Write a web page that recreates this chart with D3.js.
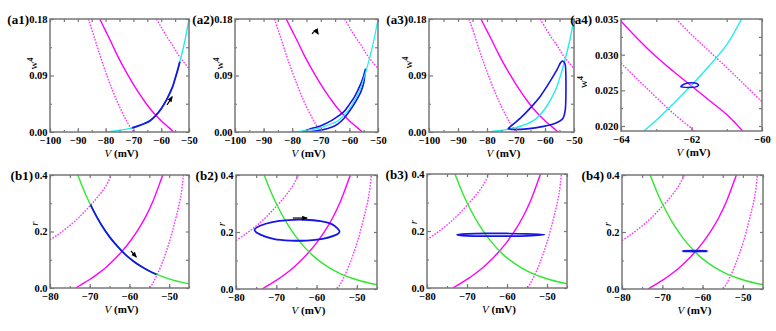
<!DOCTYPE html>
<html>
<head>
<meta charset="utf-8">
<script src="https://cdn.jsdelivr.net/npm/d3@7"></script>
<style>
  body { margin: 0; background: #fff; }
  svg text { font-family: "Liberation Serif", "Times New Roman", serif; font-weight: bold; fill: #000; }
</style>
</head>
<body>
<div id="chart"></div>
<script>
// ---- top row (V, w^4) ----
var topSolid = [[-82.1,0.18],[-80,0.161],[-78,0.143],[-76,0.124],[-74,0.107],[-72,0.091],[-70,0.076],[-68,0.062],[-66,0.049],[-64,0.037],[-62,0.027],[-60,0.018],[-58,0.010],[-55.5,0]];
var topDotLeft = [[-86.2,0.18],[-84,0.15],[-82,0.122],[-80,0.096],[-78,0.072],[-76,0.050],[-74,0.031],[-72,0.014],[-70,0]];
var topDotRight = [[-61.7,0.18],[-60,0.167],[-58,0.152],[-56,0.139],[-54,0.124],[-52,0.112],[-50,0.101]];
var topCyan = [[-80,0],[-76,0.002],[-72,0.005],[-70,0.007],[-68,0.010],[-66,0.0135],[-64,0.018],[-62,0.026],[-60,0.037],[-58,0.052],[-56,0.071],[-55,0.085],[-54,0.100],[-53,0.117],[-52,0.135],[-51,0.156],[-50,0.18]];

var a1Traj = [[-70.5,0.0065],[-68,0.010],[-66,0.0135],[-64,0.018],[-62,0.026],[-60,0.037],[-58,0.052],[-56,0.071],[-55,0.085],[-54,0.100],[-53.3,0.112]];
var a2Loop = [[-76.5,0.0005],[-74,0.0045],[-70,0.010],[-66,0.019],[-62,0.032],[-60,0.044],[-58,0.058],[-56,0.077],[-55,0.090],[-54.4,0.100],
              [-54.6,0.091],[-55,0.078],[-56,0.064],[-58,0.047],[-60,0.033],[-62,0.021],[-64,0.013],[-66,0.008],[-70,0.003],[-74,0.0005]];
var a3Loop = [[-72.5,0.0064],[-68.5,0.022],[-65.1,0.038],[-61.6,0.057],[-58.2,0.081],[-55.9,0.099],[-54.7,0.110],[-53.9,0.113],
              [-53,0.107],[-52.8,0.089],[-52.8,0.057],[-53,0.036],[-53.8,0.022],[-56.4,0.014],[-60.5,0.009],[-66.2,0.005],[-70.8,0.004],[-72.2,0.005]];

// ---- a4 zoom (V, w^4) ----
var a4Solid = [[-64,0.0347],[-63.5,0.0321],[-63,0.0297],[-62.5,0.0276],[-62,0.0256],[-61.5,0.0236],[-61,0.0216],[-60.55,0.0193]];
var a4DotLeft = [[-64,0.0288],[-63.5,0.0264],[-63,0.0240],[-62.5,0.0217],[-61.9,0.0193]];
var a4DotRight = [[-62.43,0.035],[-62,0.0328],[-61.5,0.0305],[-61,0.0282],[-60.5,0.0258],[-60,0.0234]];
var a4Cyan = [[-63.35,0.0193],[-63,0.0208],[-62.5,0.0232],[-62,0.0257],[-61.5,0.0284],[-61,0.0314],[-60.58,0.035]];
var a4Loop = [[-62.3,0.02555],[-62.2,0.0259],[-62.0,0.02605],[-61.85,0.02595],[-61.8,0.0257],[-61.9,0.02545],[-62.1,0.0254],[-62.25,0.02545]];

// ---- bottom row (V, r) ----
var botGreen = [[-73,0.40],[-71,0.33],[-69,0.272],[-67,0.222],[-65,0.181],[-63,0.147],[-61,0.118],[-59,0.095],[-57,0.076],[-55,0.060],[-53,0.047],[-51,0.037],[-49,0.028],[-47,0.021],[-45,0.015]];
var botSolid = [[-73.5,0],[-72,0.013],[-70,0.03],[-68,0.05],[-66,0.072],[-64,0.098],[-62,0.128],[-60,0.162],[-58,0.202],[-56,0.25],[-54,0.31],[-52,0.385],[-51.6,0.4]];
var botDotLeft = [[-80,0.17],[-78,0.189],[-76,0.21],[-74,0.233],[-72,0.26],[-70,0.29],[-68,0.322],[-66,0.36],[-64.5,0.4]];
var botDotRight = [[-54.8,0],[-54,0.02],[-53,0.048],[-52,0.08],[-51,0.118],[-50,0.16],[-49,0.21],[-48,0.265],[-47,0.33],[-46.4,0.4]];

var b1Traj = [[-69.8,0.295],[-69,0.272],[-67,0.222],[-65,0.181],[-63,0.147],[-61,0.118],[-59,0.095],[-57,0.076],[-55,0.060],[-53.2,0.048]];
var b2Loop = [[-75.4,0.207],[-74,0.222],[-71,0.235],[-67,0.242],[-63,0.243],[-59,0.238],[-56,0.226],[-54.3,0.203],[-55.5,0.188],[-58.5,0.176],[-62.5,0.170],[-66.5,0.170],[-70.5,0.175],[-73.8,0.190]];
var b3Loop = [[-72.5,0.187],[-70,0.190],[-65,0.1915],[-60,0.1915],[-55,0.190],[-50.6,0.187],[-55,0.183],[-60,0.182],[-65,0.182],[-70,0.183]];
var b4Loop = [[-65,0.133],[-62,0.1337],[-58.8,0.133],[-62,0.1323]];

// arrows [x1, y1, x2, y2] in data units
var a1Arrow = [-57.9,0.043,-56.1,0.056];
var b1Arrow = [-59.6,0.131,-58.3,0.110];
var b2Arrow = [-65.9,0.249,-62.4,0.249];

// ticks
var topXTicks = [-100,-90,-80,-70,-60,-50];
var topYTicks = [0,0.09,0.18];
var a4XTicks = [-64,-62,-60];
var a4YTicks = [0.020,0.025,0.030,0.035];
var botXTicks = [-80,-70,-60,-50];
var botYTicks = [0,0.2,0.4];

var MAG = "#ff00ff", MAGD = "#ff33ff", CYAN = "#22ecf2", BLUE = "#1515e8", GREEN = "#2ee82e";

function topBack() {
  return [
    { data: topDotLeft, color: MAGD, dash: "1.6,1.4" },
    { data: topDotRight, color: MAGD, dash: "1.6,1.4" },
    { data: topSolid, color: MAG },
    { data: topCyan, color: CYAN }
  ];
}
function botBack() {
  return [
    { data: botDotLeft, color: MAGD, dash: "1.6,1.4" },
    { data: botDotRight, color: MAGD, dash: "1.6,1.4" },
    { data: botSolid, color: MAG },
    { data: botGreen, color: GREEN }
  ];
}

var panels = [
  { id: "(a1)", l: 50, r: 189, t: 19, b: 132, xd: [-100,-50], yd: [0,0.18], xt: topXTicks, yt: topYTicks, fmt: ".2f", ylab: "w", lx: 13, ly: -12, tag: 21,
    layers: topBack().concat([{ data: a1Traj, color: BLUE, width: 1.8 }]), arrow: a1Arrow },
  { id: "(a2)", l: 235, r: 378, t: 19, b: 132, xd: [-100,-50], yd: [0,0.18], xt: topXTicks, yt: topYTicks, fmt: ".2f", ylab: "w", lx: 12, ly: -12, tag: 21,
    layers: topBack().slice(0,3).concat([{ data: a2Loop, color: BLUE, width: 1.6, closed: true }, { data: topCyan, color: CYAN, width: 1.2 }]), curl: [-72, 0.158] },
  { id: "(a3)", l: 429, r: 574, t: 19, b: 132, xd: [-100,-50], yd: [0,0.18], xt: topXTicks, yt: topYTicks, fmt: ".2f", ylab: "w", lx: 17, ly: -13, tag: 21,
    layers: topBack().concat([{ data: a3Loop, color: BLUE, width: 1.6, closed: true }]) },
  { id: "(a4)", l: 621, r: 762, t: 19, b: 131, xd: [-64,-60], yd: [0.0193,0.035], xt: a4XTicks, yt: a4YTicks, fmt: ".3f", ylab: "w", lx: 34, ly: 7, tag: 29,
    layers: [
      { data: a4DotLeft, color: MAGD, dash: "1.6,1.4" },
      { data: a4DotRight, color: MAGD, dash: "1.6,1.4" },
      { data: a4Solid, color: MAG },
      { data: a4Cyan, color: CYAN },
      { data: a4Loop, color: BLUE, width: 1.5, closed: true }
    ] },
  { id: "(b1)", l: 50, r: 189, t: 175, b: 288, xd: [-80,-45], yd: [0,0.4], xt: botXTicks, yt: botYTicks, fmt: ".1f", ylab: "r", lx: 12, ly: -8, tag: 17,
    layers: botBack().concat([{ data: b1Traj, color: BLUE, width: 1.8 }]), arrow: b1Arrow },
  { id: "(b2)", l: 236, r: 377, t: 175, b: 289, xd: [-80,-45], yd: [0,0.4], xt: botXTicks, yt: botYTicks, fmt: ".1f", ylab: "r", lx: 11, ly: -8, tag: 18,
    layers: botBack().concat([{ data: b2Loop, color: BLUE, width: 1.8, closed: true }]), arrow: b2Arrow },
  { id: "(b3)", l: 427, r: 567, t: 174, b: 288, xd: [-80,-45], yd: [0,0.4], xt: botXTicks, yt: botYTicks, fmt: ".1f", ylab: "r", lx: 10, ly: -9, tag: 19,
    layers: botBack().concat([{ data: b3Loop, color: BLUE, width: 1.6, closed: true }]) },
  { id: "(b4)", l: 622, r: 763, t: 175, b: 289, xd: [-80,-45], yd: [0,0.4], xt: botXTicks, yt: botYTicks, fmt: ".1f", ylab: "r", lx: 11, ly: -8, tag: 18,
    layers: botBack().concat([{ data: b4Loop, color: BLUE, width: 2.2, closed: true }]) }
];

var svg = d3.select("#chart").append("svg")
  .attr("width", 776)
  .attr("height", 331)
  .style("display", "block");

var defs = svg.append("defs");
defs.append("marker")
  .attr("id", "head")
  .attr("viewBox", "0 0 10 10")
  .attr("refX", 8).attr("refY", 5)
  .attr("markerWidth", 5).attr("markerHeight", 5)
  .attr("orient", "auto")
  .append("path")
  .attr("d", "M0,1 L10,5 L0,9 z")
  .attr("fill", "#000");

panels.forEach(function(p, i) {
  var x = d3.scaleLinear().domain(p.xd).range([p.l, p.r]);
  var y = d3.scaleLinear().domain(p.yd).range([p.b, p.t]);
  var g = svg.append("g");

  defs.append("clipPath").attr("id", "clip" + i)
    .append("rect")
    .attr("x", p.l).attr("y", p.t)
    .attr("width", p.r - p.l).attr("height", p.b - p.t);

  var plot = g.append("g").attr("clip-path", "url(#clip" + i + ")");

  p.layers.forEach(function(ly) {
    var line = d3.line()
      .x(function(d) { return x(d[0]); })
      .y(function(d) { return y(d[1]); })
      .curve(ly.closed ? d3.curveCardinalClosed.tension(0.2) : d3.curveCatmullRom);
    plot.append("path")
      .datum(ly.data)
      .attr("d", line)
      .attr("fill", "none")
      .attr("stroke", ly.color)
      .attr("stroke-width", ly.width || 1.4)
      .attr("stroke-dasharray", ly.dash || null);
  });

  if (p.arrow) {
    g.append("line")
      .attr("x1", x(p.arrow[0])).attr("y1", y(p.arrow[1]))
      .attr("x2", x(p.arrow[2])).attr("y2", y(p.arrow[3]))
      .attr("stroke", "#000")
      .attr("stroke-width", 1.2)
      .attr("marker-end", "url(#head)");
  }
  if (p.curl) {
    var cx = x(p.curl[0]), cy = y(p.curl[1]);
    g.append("path")
      .attr("d", "M" + (cx - 3) + "," + (cy + 1) + " Q" + cx + "," + (cy - 4) + " " + (cx + 3) + "," + (cy + 1))
      .attr("fill", "none")
      .attr("stroke", "#000")
      .attr("stroke-width", 1.3)
      .attr("marker-end", "url(#head)");
  }

  // minor tick values
  var xs = p.xt[1] - p.xt[0], ys = p.yt[1] - p.yt[0];
  var xMinor = d3.range(p.xd[0], p.xd[1] + 1e-9, xs / 2);
  var yMinor = [];
  p.yt.forEach(function(v, k) { if (k < p.yt.length - 1) yMinor.push(v + ys / 2); });

  function axisStyle(sel) {
    sel.select(".domain").remove();
    sel.selectAll("line").attr("stroke", "#777").attr("stroke-width", 1.2);
    sel.selectAll("text").style("font-size", "10.5px");
  }

  g.append("g").attr("transform", "translate(0," + p.b + ")")
    .call(d3.axisBottom(x).tickValues(p.xt).tickSize(-4).tickPadding(5).tickFormat(d3.format("d")))
    .call(axisStyle);
  g.append("g").attr("transform", "translate(0," + p.b + ")")
    .call(d3.axisBottom(x).tickValues(xMinor).tickSize(-2).tickFormat(""))
    .call(axisStyle);
  g.append("g").attr("transform", "translate(0," + p.t + ")")
    .call(d3.axisTop(x).tickValues(xMinor).tickSize(-3).tickFormat(""))
    .call(axisStyle);
  g.append("g").attr("transform", "translate(" + p.l + ",0)")
    .call(d3.axisLeft(y).tickValues(p.yt).tickSize(-4).tickPadding(2.5).tickFormat(d3.format(p.fmt)))
    .call(axisStyle);
  g.append("g").attr("transform", "translate(" + p.l + ",0)")
    .call(d3.axisLeft(y).tickValues(yMinor).tickSize(-2).tickFormat(""))
    .call(axisStyle);
  g.append("g").attr("transform", "translate(" + p.r + ",0)")
    .call(d3.axisRight(y).tickValues(p.yt.concat(yMinor)).tickSize(-3).tickFormat(""))
    .call(axisStyle);

  g.append("rect")
    .attr("x", p.l).attr("y", p.t)
    .attr("width", p.r - p.l).attr("height", p.b - p.t)
    .attr("fill", "none")
    .attr("stroke", "#777")
    .attr("stroke-width", 1.5);

  // panel tag
  g.append("text")
    .attr("x", p.l - p.tag).attr("y", p.t + 5)
    .attr("text-anchor", "end")
    .style("font-size", "13px")
    .text(p.id);

  // x label
  var xl = g.append("text")
    .attr("x", (p.l + p.r) / 2 + 2).attr("y", p.b + 25)
    .attr("text-anchor", "middle")
    .style("font-size", "11px");
  xl.append("tspan").style("font-style", "italic").style("font-weight", "normal").text("V");
  xl.append("tspan").text(" (mV)");

  // y label
  var yl = g.append("text")
    .attr("transform", "translate(" + (p.l - p.lx) + "," + ((p.t + p.b) / 2 + p.ly) + ") rotate(-90)")
    .attr("text-anchor", "middle")
    .style("font-size", "11px");
  if (p.ylab == "w") {
    yl.append("tspan").style("font-weight", "normal").text("w");
    yl.append("tspan").attr("dy", -4).style("font-size", "8px").text("4");
  } else {
    yl.append("tspan").style("font-style", "italic").style("font-weight", "normal").text("r");
  }
});
</script>
</body>
</html>
